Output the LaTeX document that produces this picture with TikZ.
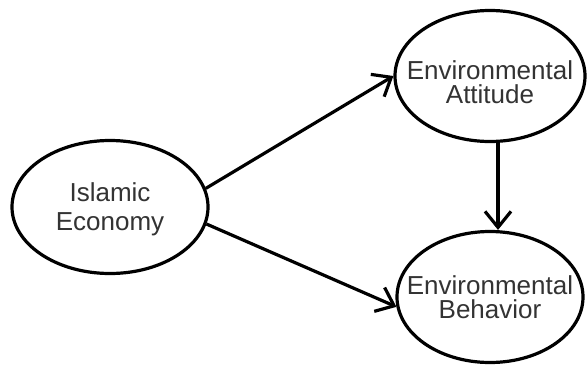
\documentclass[tikz,border=0pt]{standalone}
\usepackage{fontspec}
\setmainfont{Liberation Sans}
\usetikzlibrary{shapes.geometric,arrows.meta}
\definecolor{txt}{HTML}{333333}
\begin{document}
\begin{tikzpicture}[x=1pt,y=-1pt,
  ell/.style={draw=black,line width=3.2pt,ellipse,inner sep=0pt,fill=white},
  lbl/.style={font=\fontsize{26}{24}\selectfont,text=txt,align=center,inner sep=0pt},
  conn/.style={line width=3.2pt,-{Straight Barb[length=16pt,width=26pt,line width=3.2pt]}}]
\useasboundingbox (0,0) rectangle (587,365);
\node[ell,minimum width=196pt,minimum height=133pt,
  label={[lbl,font=\fontsize{26}{29}\selectfont,yshift=-2pt]center:{Islamic\\Economy}}] (ie) at (110,207) {};
\node[ell,minimum width=190pt,minimum height=131pt,
  label={[lbl,yshift=-6pt]center:{Environmental\\Attitude}}] (ea) at (490,76) {};
\node[ell,minimum width=186pt,minimum height=131pt,
  label={[lbl]center:{Environmental\\Behavior}}] (eb) at (490,297) {};
\draw[conn] (ie.11) -- (ea.180);
\draw[conn] (ie.-10) -- (eb.186);
\draw[conn] ([xshift=8pt]ea.south) -- ([xshift=8pt]eb.north);
\end{tikzpicture}
\end{document}
